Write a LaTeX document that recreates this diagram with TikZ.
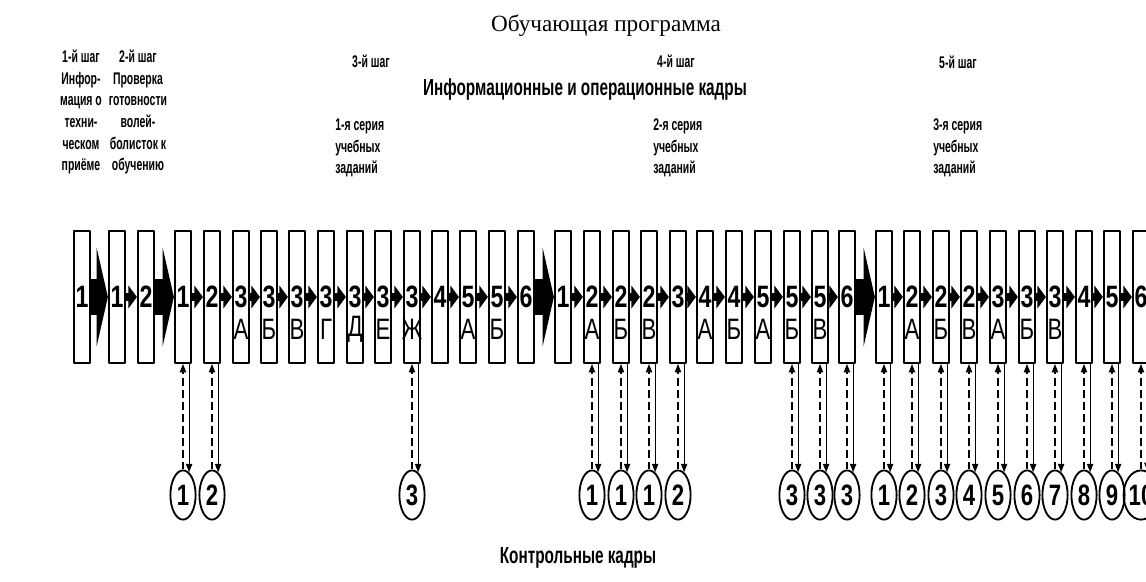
\documentclass[tikz,border=0pt]{standalone}
\usepackage{fontspec}
\setmainfont{Liberation Serif}
\newfontfamily\narrowsans[FakeStretch=0.75]{Liberation Sans}
\newfontfamily\condsans[FakeStretch=0.62]{Liberation Sans}
\newfontfamily\capsans[FakeStretch=0.66]{Liberation Sans}
\usetikzlibrary{arrows.meta,shapes.geometric}

\begin{document}
\begin{tikzpicture}[x=0.025cm,y=-0.025cm,line join=round,
		frame/.style={draw,line width=1.3pt,minimum width=0.41cm,minimum height=3.30cm,inner sep=0pt,
			font=\narrowsans\bfseries\fontsize{22}{22}\selectfont},
		sub/.style={inner sep=0pt,font=\narrowsans\fontsize{21}{21}\selectfont},
		ctrl/.style={draw,ellipse,line width=1.3pt,minimum width=0.63cm,minimum height=1.23cm,inner sep=0pt,
			font=\narrowsans\bfseries\fontsize{21}{21}\selectfont},
		head/.style={align=center,inner sep=0pt,font=\condsans\bfseries\fontsize{12}{15.4}\selectfont},
		series/.style={align=left,anchor=west,inner sep=0pt,font=\condsans\bfseries\fontsize{12}{15.4}\selectfont},
		caption/.style={inner sep=0pt,anchor=base,font=\capsans\bfseries\fontsize{16.5}{16.5}\selectfont},
		small/.style={line width=5pt,-{Triangle[length=6pt,width=16pt]}},
		big/.style={line width=25pt,-{Triangle[length=8pt,width=70pt]}},
		up/.style={dash pattern=on 5.5pt off 3pt,line width=0.8pt,-{Triangle[length=6pt,width=4.5pt]}},
		down/.style={line width=0.8pt,-{Triangle[length=6pt,width=4.5pt]}}]
	\useasboundingbox (0,0) rectangle (1146,581);
	
	% headings
	\node[anchor=base,inner sep=0pt,font=\fontsize{16.5}{16.5}\selectfont] (title) at (606,31) {Обучающая программа};
	\node[head] (step1) at (81,112) {1-й шаг\\Инфор-\\мация о\\техни-\\ческом\\приёме};
	\node[head] (step2) at (138,112) {2-й шаг\\Проверка\\готовности\\волей-\\болисток к\\обучению};
	\node[head] (step3) at (371,61) {3-й шаг};
	\node[head] (step4) at (676,61) {4-й шаг};
	\node[head] (step5) at (958,62) {5-й шаг};
	\node[caption] (infoops) at (585,95) {Информационные и операционные кадры};
	\node[series] (series1) at (335,148) {1-я серия\\учебных\\заданий};
	\node[series] (series2) at (653,148) {2-я серия\\учебных\\заданий};
	\node[series] (series3) at (933,148) {3-я серия\\учебных\\заданий};
	\node[caption] (ctrltitle) at (578,563) {Контрольные кадры};
	
	% frames of the programme
	\foreach \n/\x/\t/\s in {1/82/1/{},2/117/1/{},3/146/2/{},4/183/1/{},5/212/2/{},
		6/241/3/А,7/269/3/Б,8/297/3/В,9/326/3/Г,10/355/3/Д,11/383/3/Е,12/412/3/Ж,
		13/440/4/{},14/468/5/А,15/497/5/Б,16/526/6/{},
		17/563/1/{},18/592/2/А,19/621/2/Б,20/649/2/В,21/678/3/{},22/705/4/А,23/734/4/Б,
		24/763/5/А,25/792/5/Б,26/820/5/В,27/847/6/{},
		28/884/1/{},29/912/2/А,30/941/2/Б,31/969/2/В,32/998/3/А,33/1027/3/Б,34/1055/3/В,
		35/1084/4/{},36/1112/5/{},37/1141/6/{}}
	{
		\node[frame] (f\n) at (\x,297) {\t};
		\node[sub] (s\n) at (\x,329) {\s};
	}
	
	% arrows between frames
	\foreach \i [evaluate=\i as \j using int(\i+1)] in {2,4,5,...,15,17,18,...,26,28,29,...,36}
		\draw[small] (f\i.east) -- (f\j.west);
	\foreach \i [evaluate=\i as \j using int(\i+1)] in {1,3,16,27}
		\draw[big] (f\i.east) -- (f\j.west);
	
	% control frames
	\coordinate (base) at (0,495);
	\foreach \f/\c in {4/1,5/2,12/3,18/1,19/1,20/1,21/2,25/3,26/3,27/3,
		28/1,29/2,30/3,31/4,32/5,33/6,34/7,35/8,36/9,37/10}
	{
		\node[ctrl] (c\f) at (f\f |- base) {\c};
		\draw[up] (c\f.north) -- (f\f.south);
		\draw[down] (c\f.75 |- f\f.south) -- (c\f.75);
	}
\end{tikzpicture}
\end{document}
